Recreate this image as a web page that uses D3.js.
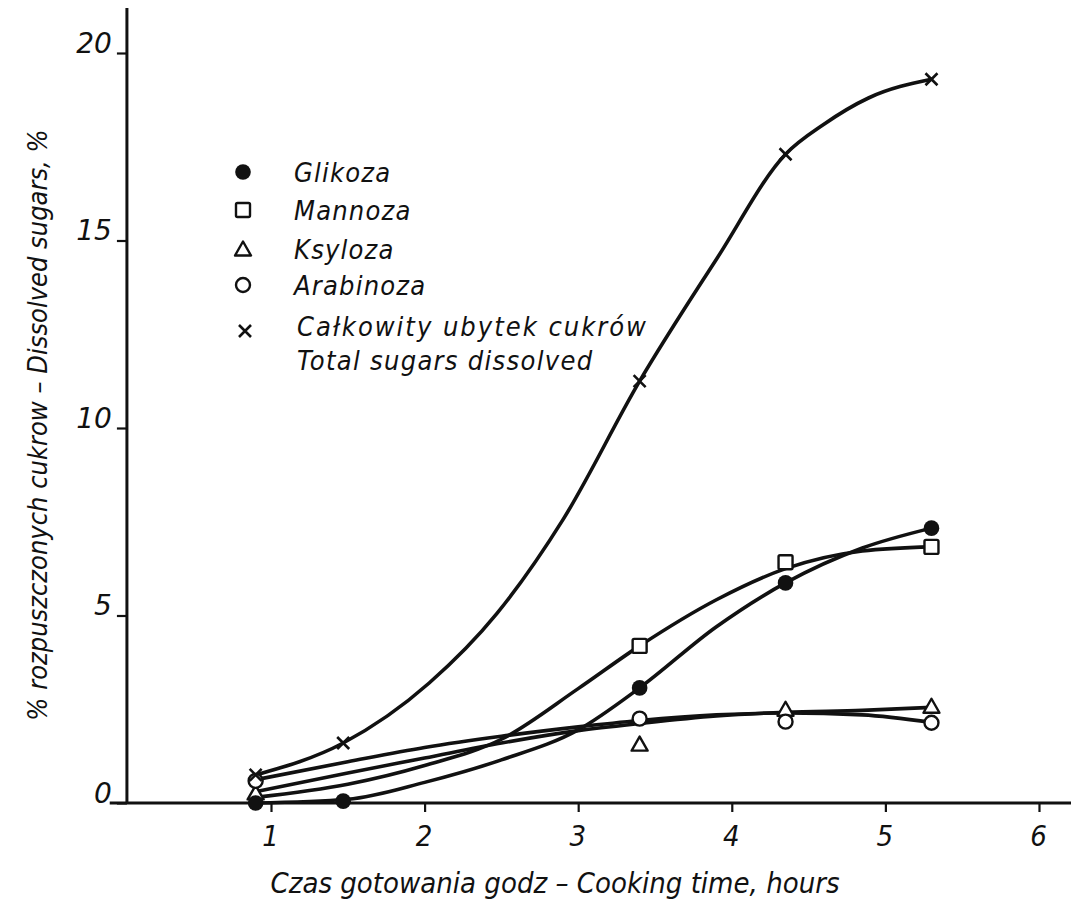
<!DOCTYPE html>
<html>
<head>
<meta charset="utf-8">
<script src="https://cdn.jsdelivr.net/npm/d3@7"></script>
<style>
  html, body { margin: 0; padding: 0; background: #fff; }
  svg text { font-family: "DejaVu Sans Condensed", "DejaVu Sans", sans-serif; font-style: italic; fill: #111; }
</style>
</head>
<body>
<svg id="chart" width="1071" height="908"></svg>
<script>
// Sampling times (hours) of the measured points
const times = [0.9, 1.47, 3.4, 4.35, 5.3];

// Measured dissolved sugars, % (null = no marker)
const glikoza   = [0, 0.05, 3.07, 5.87, 7.33];
const mannoza   = [null, null, 4.19, 6.42, 6.83];
const ksyloza   = [0.27, null, 1.57, 2.5, 2.58];
const arabinoza = [0.59, null, 2.25, 2.17, 2.14];
const total     = [0.75, 1.6, 11.25, 17.3, 19.3];

// Hand-drawn smoothing curves: times and values along each curve
const curveTimes   = [0.9, 1.5, 2.0, 2.5, 3.0, 3.4, 3.9, 4.35, 4.85, 5.3];
const glikozaFit   = [0.0, 0.1, 0.55, 1.15, 1.95, 3.07, 4.7, 5.87, 6.8, 7.33];
const mannozaFit   = [0.15, 0.5, 1.0, 1.7, 3.05, 4.19, 5.42, 6.25, 6.72, 6.83];
const ksylozaFit   = [0.3, 0.8, 1.2, 1.6, 1.93, 2.12, 2.32, 2.42, 2.47, 2.55];
const arabinozaFit = [0.62, 1.1, 1.48, 1.78, 2.03, 2.2, 2.35, 2.4, 2.35, 2.15];
const totalTimes   = [0.9, 1.47, 2.03, 2.47, 2.9, 3.4, 3.9, 4.35, 4.6, 4.89, 5.3];
const totalFit     = [0.75, 1.6, 3.2, 5.05, 7.55, 11.25, 14.5, 17.3, 18.1, 18.8, 19.3];

// Axis ticks
const xTicks = [1, 2, 3, 4, 5, 6];
const yTicks = [0, 5, 10, 15, 20];

// Legend entries
const legendNames = ["Glikoza", "Mannoza", "Ksyloza", "Arabinoza"];
const legendTotal = ["Całkowity ubytek cukrów", "Total sugars dissolved"];

const svg = d3.select("#chart");
const x = d3.scaleLinear().domain([0, 6.2]).range([117.4, 1069.7]);
const y = d3.scaleLinear().domain([0, 21.2]).range([803, 8]);
const ink = "#111";

// Axes lines
svg.append("line").attr("x1", x(-0.05)).attr("x2", x(6.21))
  .attr("y1", y(0)).attr("y2", y(0)).attr("stroke", ink).attr("stroke-width", 3);
svg.append("line").attr("x1", x(0.062)).attr("x2", x(0.062))
  .attr("y1", y(21.2)).attr("y2", y(0) + 1).attr("stroke", ink).attr("stroke-width", 3);

// X axis ticks and labels
const xAxis = d3.axisBottom(x).tickValues(xTicks).tickSize(9).tickSizeOuter(0).tickPadding(13)
  .tickFormat(d3.format("d"));
const gx = svg.append("g").attr("transform", `translate(0,${y(0)})`).call(xAxis);
gx.select(".domain").remove();
gx.selectAll(".tick line").attr("stroke", ink).attr("stroke-width", 2.2);
gx.selectAll(".tick text").attr("font-size", 29).attr("dx", -1)
  .style("font-family", "'DejaVu Sans Condensed', 'DejaVu Sans', sans-serif");

// Y axis ticks and labels
const yAxis = d3.axisLeft(y).tickValues(yTicks).tickSize(10).tickSizeOuter(0).tickPadding(5)
  .tickFormat(d3.format("d"));
const gy = svg.append("g").attr("transform", `translate(${x(0.062)},0)`).call(yAxis);
gy.select(".domain").remove();
gy.selectAll(".tick line").attr("stroke", ink).attr("stroke-width", 2.2);
gy.selectAll(".tick text").attr("font-size", 28).attr("dy", "-0.02em")
  .style("font-family", "'DejaVu Sans', sans-serif");

// Axis titles
svg.append("text").attr("x", 555).attr("y", 893).attr("text-anchor", "middle")
  .attr("font-size", 29)
  .text("Czas gotowania godz – Cooking time, hours");
svg.append("text").attr("transform", "translate(47,425) rotate(-90)").attr("text-anchor", "middle")
  .attr("font-size", 27)
  .text("% rozpuszczonych cukrow – Dissolved sugars, %");

// Curves
const line = d3.line().x(d => x(d[0])).y(d => y(d[1])).curve(d3.curveMonotoneX);
const curves = [
  d3.zip(curveTimes, glikozaFit),
  d3.zip(curveTimes, mannozaFit),
  d3.zip(curveTimes, ksylozaFit),
  d3.zip(curveTimes, arabinozaFit),
  d3.zip(totalTimes, totalFit)
];
svg.append("g").selectAll("path").data(curves).join("path")
  .attr("d", line).attr("fill", "none").attr("stroke", ink)
  .attr("stroke-width", 3.6).attr("stroke-linecap", "round");

// Marker drawing helpers
function drawMarker(g, kind, cx, cy) {
  if (kind === "dot") {
    g.append("circle").attr("cx", cx).attr("cy", cy).attr("r", 7.8).attr("fill", ink);
  } else if (kind === "square") {
    g.append("rect").attr("x", cx - 7).attr("y", cy - 7).attr("width", 14).attr("height", 14)
      .attr("rx", 1.5).attr("fill", "#fff").attr("stroke", ink).attr("stroke-width", 2.4);
  } else if (kind === "triangle") {
    g.append("path").attr("d", `M${cx},${cy - 7.5}L${cx + 8},${cy + 6.5}L${cx - 8},${cy + 6.5}Z`)
      .attr("fill", "#fff").attr("stroke", ink).attr("stroke-width", 2.4).attr("stroke-linejoin", "round");
  } else if (kind === "circle") {
    g.append("circle").attr("cx", cx).attr("cy", cy).attr("r", 7)
      .attr("fill", "#fff").attr("stroke", ink).attr("stroke-width", 2.4);
  } else if (kind === "cross") {
    g.append("path").attr("d", `M${cx - 6},${cy - 6}L${cx + 6},${cy + 6}M${cx - 6},${cy + 6}L${cx + 6},${cy - 6}`)
      .attr("stroke", ink).attr("stroke-width", 2.6);
  }
}

const series = [
  { values: ksyloza, kind: "triangle" },
  { values: arabinoza, kind: "circle" },
  { values: mannoza, kind: "square" },
  { values: glikoza, kind: "dot" },
  { values: total, kind: "cross" }
];
const gm = svg.append("g");
series.forEach(s => {
  s.values.forEach((v, i) => {
    if (v !== null) drawMarker(gm, s.kind, x(times[i]), y(v));
  });
});

// Legend
const gl = svg.append("g");
const legendKinds = ["dot", "square", "triangle", "circle"];
const legendY = [172, 210, 249, 285];
legendNames.forEach((name, i) => {
  drawMarker(gl, legendKinds[i], 243, legendY[i]);
  gl.append("text").attr("x", 294).attr("y", legendY[i] + 10).attr("font-size", 27)
    .attr("letter-spacing", 1.2).text(name);
});
drawMarker(gl, "cross", 245, 331);
const totalSpacing = [2, 1.3];
legendTotal.forEach((t, i) => {
  gl.append("text").attr("x", 297).attr("y", 336 + i * 34).attr("font-size", 27)
    .attr("letter-spacing", totalSpacing[i]).text(t);
});
</script>
</body>
</html>
